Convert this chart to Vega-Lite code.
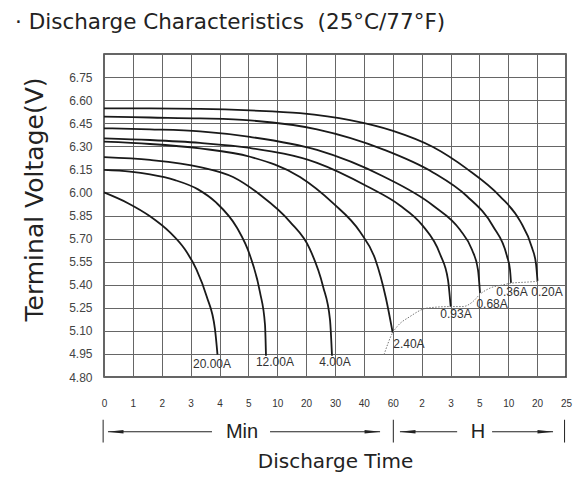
{
  "$schema": "https://vega.github.io/schema/vega-lite/v6.json",
  "autosize": {"type": "none"},
  "width": 462,
  "height": 323,
  "padding": {"left": 104, "top": 54, "right": 11, "bottom": 115},
  "background": "white",
  "config": {
    "font": "Liberation Sans",
    "view": {"stroke": "#333333", "strokeWidth": 1.5},
    "axis": {"gridColor": "#666666", "gridWidth": 1, "gridOpacity": 1, "domain": false, "ticks": false, "tickSize": 0}
  },
  "title": {
    "text": "· Discharge Characteristics \u00a0(25°C/77°F)",
    "anchor": "start",
    "frame": "group",
    "dx": -89,
    "offset": 4,
    "baseline": "alphabetic",
    "fontSize": 21.5,
    "fontWeight": "normal",
    "color": "#222222",
    "font": "DejaVu Sans"
  },
  "datasets": {
    "curves": [
      {"s": "0.20A", "t": 0, "v": 6.547}, {"s": "0.20A", "t": 1.593, "v": 6.546}, {"s": "0.20A", "t": 3.325, "v": 6.543}, {"s": "0.20A", "t": 5.056, "v": 6.533}, {"s": "0.20A", "t": 6.788, "v": 6.515}, {"s": "0.20A", "t": 8.519, "v": 6.47}, {"s": "0.20A", "t": 10.009, "v": 6.4}, {"s": "0.20A", "t": 11.394, "v": 6.295}, {"s": "0.20A", "t": 12.571, "v": 6.153}, {"s": "0.20A", "t": 13.714, "v": 5.975}, {"s": "0.20A", "t": 14.407, "v": 5.815}, {"s": "0.20A", "t": 14.823, "v": 5.64}, {"s": "0.20A", "t": 14.961, "v": 5.535}, {"s": "0.20A", "t": 15.013, "v": 5.425},
      {"s": "0.36A", "t": 0, "v": 6.493}, {"s": "0.36A", "t": 1.593, "v": 6.487}, {"s": "0.36A", "t": 3.325, "v": 6.481}, {"s": "0.36A", "t": 5.056, "v": 6.468}, {"s": "0.36A", "t": 7.377, "v": 6.41}, {"s": "0.36A", "t": 9.662, "v": 6.28}, {"s": "0.36A", "t": 11.394, "v": 6.13}, {"s": "0.36A", "t": 12.571, "v": 5.975}, {"s": "0.36A", "t": 13.472, "v": 5.78}, {"s": "0.36A", "t": 13.957, "v": 5.585}, {"s": "0.36A", "t": 14.061, "v": 5.497}, {"s": "0.36A", "t": 14.095, "v": 5.412},
      {"s": "0.68A", "t": 0, "v": 6.417}, {"s": "0.68A", "t": 1.593, "v": 6.41}, {"s": "0.68A", "t": 3.325, "v": 6.397}, {"s": "0.68A", "t": 5.056, "v": 6.361}, {"s": "0.68A", "t": 7.377, "v": 6.276}, {"s": "0.68A", "t": 9.662, "v": 6.105}, {"s": "0.68A", "t": 11.394, "v": 5.915}, {"s": "0.68A", "t": 12.329, "v": 5.757}, {"s": "0.68A", "t": 12.745, "v": 5.627}, {"s": "0.68A", "t": 12.952, "v": 5.497}, {"s": "0.68A", "t": 13.022, "v": 5.347},
      {"s": "0.93A", "t": 0, "v": 6.352}, {"s": "0.93A", "t": 1.593, "v": 6.341}, {"s": "0.93A", "t": 3.325, "v": 6.322}, {"s": "0.93A", "t": 5.056, "v": 6.289}, {"s": "0.93A", "t": 7.377, "v": 6.192}, {"s": "0.93A", "t": 9.108, "v": 6.04}, {"s": "0.93A", "t": 10.251, "v": 5.915}, {"s": "0.93A", "t": 11.013, "v": 5.789}, {"s": "0.93A", "t": 11.636, "v": 5.6}, {"s": "0.93A", "t": 11.913, "v": 5.432}, {"s": "0.93A", "t": 12.007, "v": 5.256},
      {"s": "2.40A", "t": 0, "v": 6.33}, {"s": "2.40A", "t": 1.593, "v": 6.315}, {"s": "2.40A", "t": 3.325, "v": 6.286}, {"s": "2.40A", "t": 5.056, "v": 6.232}, {"s": "2.40A", "t": 6.788, "v": 6.1}, {"s": "2.40A", "t": 7.931, "v": 5.93}, {"s": "2.40A", "t": 8.866, "v": 5.744}, {"s": "2.40A", "t": 9.385, "v": 5.57}, {"s": "2.40A", "t": 9.766, "v": 5.31}, {"s": "2.40A", "t": 9.998, "v": 5.088},
      {"s": "4.00A", "t": 0, "v": 6.229}, {"s": "4.00A", "t": 1.593, "v": 6.211}, {"s": "4.00A", "t": 3.325, "v": 6.165}, {"s": "4.00A", "t": 4.468, "v": 6.1}, {"s": "4.00A", "t": 5.403, "v": 5.985}, {"s": "4.00A", "t": 6.442, "v": 5.809}, {"s": "4.00A", "t": 7.134, "v": 5.63}, {"s": "4.00A", "t": 7.584, "v": 5.39}, {"s": "4.00A", "t": 7.827, "v": 5.172}, {"s": "4.00A", "t": 7.896, "v": 4.938},
      {"s": "12.00A", "t": 0, "v": 6.146}, {"s": "12.00A", "t": 0.9, "v": 6.135}, {"s": "12.00A", "t": 1.593, "v": 6.117}, {"s": "12.00A", "t": 2.459, "v": 6.08}, {"s": "12.00A", "t": 3.255, "v": 6.02}, {"s": "12.00A", "t": 3.879, "v": 5.935}, {"s": "12.00A", "t": 4.606, "v": 5.77}, {"s": "12.00A", "t": 5.056, "v": 5.59}, {"s": "12.00A", "t": 5.403, "v": 5.35}, {"s": "12.00A", "t": 5.576, "v": 5.14}, {"s": "12.00A", "t": 5.61, "v": 4.938},
      {"s": "20.00A", "t": 0, "v": 6.0}, {"s": "20.00A", "t": 0.831, "v": 5.93}, {"s": "20.00A", "t": 1.593, "v": 5.845}, {"s": "20.00A", "t": 2.286, "v": 5.74}, {"s": "20.00A", "t": 2.8, "v": 5.63}, {"s": "20.00A", "t": 3.2, "v": 5.5}, {"s": "20.00A", "t": 3.557, "v": 5.323}, {"s": "20.00A", "t": 3.844, "v": 5.11}, {"s": "20.00A", "t": 3.931, "v": 4.945}
    ],
    "cutoff": [
      {"t": 9.697, "v": 4.945}, {"t": 9.998, "v": 5.088}, {"t": 10.147, "v": 5.127}, {"t": 10.597, "v": 5.193}, {"t": 11.186, "v": 5.248}, {"t": 12.007, "v": 5.258}, {"t": 12.433, "v": 5.258}, {"t": 12.779, "v": 5.291}, {"t": 13.022, "v": 5.338}, {"t": 13.368, "v": 5.378}, {"t": 13.818, "v": 5.399}, {"t": 14.095, "v": 5.41}, {"t": 14.649, "v": 5.417}, {"t": 15.013, "v": 5.422}
    ],
    "labels": [
      {"label": "20.00A", "t": 3.74, "v": 4.886},
      {"label": "12.00A", "t": 5.92, "v": 4.9},
      {"label": "4.00A", "t": 8.0, "v": 4.9},
      {"label": "2.40A", "t": 10.56, "v": 5.016},
      {"label": "0.93A", "t": 12.19, "v": 5.211},
      {"label": "0.68A", "t": 13.44, "v": 5.276},
      {"label": "0.36A", "t": 14.13, "v": 5.354},
      {"label": "0.20A", "t": 15.34, "v": 5.354}
    ],
    "segments": [
      {"t": -0.03, "t2": -0.03, "v": 4.522, "v2": 4.374},
      {"t": 10.02, "t2": 10.02, "v": 4.522, "v2": 4.374},
      {"t": 15.95, "t2": 15.95, "v": 4.522, "v2": 4.374},
      {"t": 0.14, "t2": 3.74, "v": 4.444, "v2": 4.444},
      {"t": 5.75, "t2": 9.56, "v": 4.444, "v2": 4.444},
      {"t": 10.25, "t2": 12.23, "v": 4.444, "v2": 4.444},
      {"t": 13.44, "t2": 15.55, "v": 4.444, "v2": 4.444}
    ],
    "heads": [
      {"dir": "left", "t": 0.398, "v": 4.444},
      {"dir": "right", "t": 9.3, "v": 4.444},
      {"dir": "left", "t": 10.51, "v": 4.444},
      {"dir": "right", "t": 15.29, "v": 4.444}
    ],
    "units": [
      {"unit": "Min", "t": 4.78, "v": 4.444},
      {"unit": "H", "t": 12.95, "v": 4.444}
    ]
  },
  "encoding": {
    "x": {
      "field": "t", "type": "quantitative",
      "scale": {"domain": [0, 16], "nice": false, "zero": false},
      "axis": {
        "values": [0, 1, 2, 3, 4, 5, 6, 7, 8, 9, 10, 11, 12, 13, 14, 15, 16],
        "labelExpr": "['0','1','2','3','4','5','10','20','30','40','60','2','3','5','10','20','25'][datum.value]",
        "labelFontSize": 10, "labelColor": "#333333", "labelPadding": 21, "labelFlush": false,
        "title": "Discharge Time", "titleFont": "DejaVu Sans", "titleFontSize": 20, "titleFontWeight": "normal", "titleColor": "#222222",
        "titleX": 231, "titleY": 84, "titleBaseline": "middle", "titleAlign": "center"
      }
    },
    "y": {
      "field": "v", "type": "quantitative",
      "scale": {"domain": [4.8, 6.9], "nice": false, "zero": false},
      "axis": {
        "values": [4.8, 4.95, 5.1, 5.25, 5.4, 5.55, 5.7, 5.85, 6.0, 6.15, 6.3, 6.45, 6.6, 6.75, 6.9],
        "labelExpr": "datum.value > 6.8 ? '' : format(datum.value, '.2f')",
        "labelFontSize": 12, "labelColor": "#444444", "labelPadding": 12, "labelFlush": false,
        "title": "Terminal Voltage(V)", "titleFont": "DejaVu Sans", "titleFontSize": 25, "titleFontWeight": "normal", "titleColor": "#222222",
        "titleX": -70, "titleY": 145, "titleBaseline": "middle", "titleAlign": "center", "titleAngle": -90
      }
    }
  },
  "layer": [
    {
      "data": {"name": "curves"},
      "mark": {"type": "line", "interpolate": "monotone", "color": "#1a1a1a", "strokeWidth": 1.8},
      "encoding": {"detail": {"field": "s", "type": "nominal"}}
    },
    {
      "data": {"name": "cutoff"},
      "mark": {"type": "line", "interpolate": "monotone", "color": "#777777", "strokeWidth": 1, "strokeDash": [1.5, 1.5]},
      "encoding": {}
    },
    {
      "data": {"name": "labels"},
      "mark": {"type": "text", "fontSize": 12, "color": "#333333", "align": "center", "baseline": "middle"},
      "encoding": {"text": {"field": "label", "type": "nominal"}}
    },
    {
      "data": {"name": "segments"},
      "mark": {"type": "rule", "color": "#222222", "strokeWidth": 1, "clip": false},
      "encoding": {"x2": {"field": "t2"}, "y2": {"field": "v2"}}
    },
    {
      "data": {"name": "heads"},
      "mark": {"type": "point", "filled": true, "color": "#222222", "opacity": 1, "size": 256, "clip": false},
      "encoding": {
        "shape": {"field": "dir", "type": "nominal", "scale": {"domain": ["left", "right"], "range": ["M -1 0 L 1 -0.22 L 1 0.22 Z", "M 1 0 L -1 -0.22 L -1 0.22 Z"]}, "legend": null}
      }
    },
    {
      "data": {"name": "units"},
      "mark": {"type": "text", "fontSize": 20, "color": "#222222", "align": "center", "baseline": "middle", "clip": false},
      "encoding": {"text": {"field": "unit", "type": "nominal"}}
    }
  ]
}
